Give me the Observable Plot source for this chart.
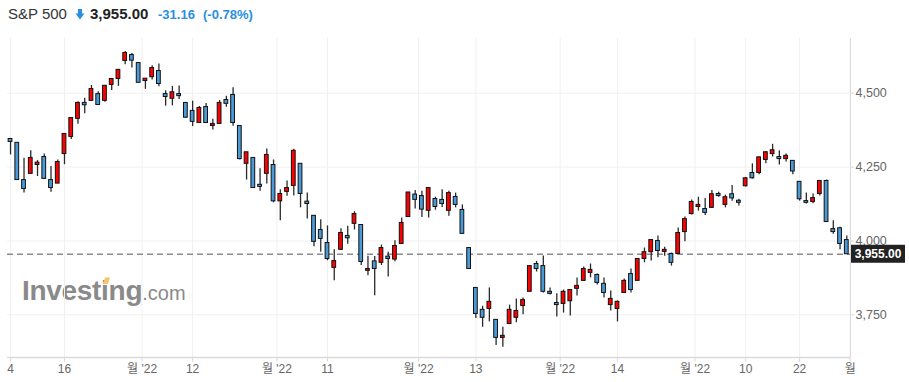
<!DOCTYPE html>
<html>
<head>
<meta charset="utf-8">
<script src="https://cdn.jsdelivr.net/npm/d3@7"></script>
<script src="https://cdn.jsdelivr.net/npm/@observablehq/plot@0.6"></script>
<style>
  body { margin: 0; background: #fff; font-family: "Liberation Sans", Arial, sans-serif; }
  #hdr { position: relative; height: 30px; width: 909px; }
  #hdr .t { position: absolute; top: 5px; white-space: nowrap; line-height: 18px; }
  #chart svg { display: block; }
</style>
</head>
<body>
<div id="hdr">
  <span class="t" id="name" style="left:8px;font-size:15px;color:#333;"></span>
  <svg style="position:absolute;left:75px;top:9px" width="10" height="11" viewBox="0 0 10 11">
    <rect x="3" y="0" width="4" height="5" fill="#2a8fe0"/>
    <polygon points="0.5,4.5 9.5,4.5 5,10.5" fill="#2a8fe0"/>
  </svg>
  <span class="t" id="last" style="left:90px;font-size:15px;font-weight:bold;color:#222;"></span>
  <span class="t" id="chg" style="left:158px;font-size:13px;font-weight:bold;color:#2a8fe0;top:6px"></span>
  <span class="t" id="pct" style="left:203px;font-size:13px;font-weight:bold;color:#2a8fe0;top:6px"></span>
</div>
<div id="chart"></div>
<script>
// ---- data (daily candles) ----
const instrument = "S&P 500";
const lastPrice = "3,955.00";
const change = "-31.16";
const changePct = "(-0.78%)";

const open = [4345,4332,4206,4227,4257,4284,4206,4194,4294,4352,4413,4467,4474,4497,4474,4528,4548,4609,4629,4602,
  4541,4554,4575,4497,4481,4497,4467,4440,4399,4453,4389,4396,4477,4494,4389,4261,4281,4190,4227,4257,
  4134,4166,4186,4261,4133,4085,4037,3993,3909,3970,4017,4058,4054,3899,3931,3926,3947,3937,3990,4081,
  4157,4152,4102,4142,4139,4102,4149,4105,3976,3841,3767,3770,3733,3672,3719,3740,3780,3828,3922,3915,
  3828,3790,3787,3796,3838,3865,3892,3885,3855,3783,3770,3824,3888,3865,3939,3962,4000,3963,3956,3956,
  4030,4091,4115,4108,4112,4159,4122,4158,4136,4185,4230,4230,4274,4294,4284,4277,4271,4200,4135,4132,
  4159,4203,4040,4043,4003];
const high = [4345,4332,4280,4305,4272,4294,4252,4274,4362,4416,4471,4483,4526,4505,4525,4548,4579,4641,4634,4602,
  4549,4593,4599,4508,4523,4524,4467,4473,4455,4465,4412,4475,4490,4518,4389,4300,4281,4244,4311,4274,
  4173,4203,4310,4261,4162,4085,4072,4051,3970,4041,4050,4099,4054,3948,3947,3986,3962,4001,4078,4164,
  4171,4168,4179,4148,4173,4168,4162,4122,3976,3841,3779,3841,3733,3708,3783,3804,3807,3915,3931,3949,
  3841,3821,3834,3834,3875,3912,3922,3888,3875,3831,3797,3871,3905,3939,3976,4003,4017,3979,3959,4044,
  4081,4139,4148,4144,4171,4165,4155,4188,4141,4215,4261,4283,4303,4327,4305,4294,4271,4200,4162,4159,
  4203,4206,4068,4046,4017];
const low = [4291,4206,4162,4227,4218,4208,4165,4194,4258,4343,4395,4430,4474,4458,4469,4509,4523,4596,4585,4535,
  4513,4545,4522,4456,4457,4479,4415,4387,4399,4397,4375,4394,4452,4388,4274,4206,4179,4168,4193,4129,
  4068,4151,4152,4112,4074,3980,3962,3933,3865,3968,3989,4037,3917,3882,3815,3917,3878,3930,3988,4081,
  4108,4079,4078,4104,4113,4084,4112,4024,3905,3738,3708,3726,3646,3640,3717,3723,3750,3828,3895,3824,
  3817,3743,3756,3746,3814,3863,3875,3851,3807,3763,3726,3822,3824,3865,3926,3932,3943,3948,3915,3954,
  3997,4088,4101,4086,4110,4148,4112,4134,4118,4183,4209,4224,4261,4284,4257,4267,4224,4135,4125,4126,
  4152,4064,4023,3970,3955];
const close = [4335,4206,4176,4281,4265,4210,4179,4267,4362,4416,4467,4459,4514,4460,4525,4548,4579,4636,4610,4535,
  4549,4585,4531,4487,4503,4490,4417,4403,4450,4399,4396,4467,4464,4399,4277,4300,4179,4183,4291,4134,
  4159,4179,4305,4159,4125,3997,4007,3939,3932,4027,4009,4091,3929,3905,3905,3976,3939,3983,4061,4164,
  4139,4106,4179,4115,4125,4162,4122,4024,3905,3753,3740,3794,3672,3679,3767,3763,3800,3915,3905,3828,
  3821,3783,3828,3834,3848,3905,3902,3858,3824,3804,3794,3865,3834,3939,3962,4003,3966,3970,3926,4027,
  4074,4132,4122,4095,4158,4152,4148,4144,4129,4212,4212,4283,4300,4307,4277,4288,4235,4141,4129,4145,
  4203,4064,4030,3990,3955];

// x-axis ticks: positions in trading-day index (month starts fall between candles)
const tickPos = [0, 8, 19.5, 27, 39.5, 47, 60.5, 69, 81.5, 90, 101.5, 109, 117, 124.5];
const tickLabels = ["4", "16", "월 '22", "12", "월 '22", "11", "월 '22", "13", "월 '22", "14", "월 '22", "10", "22", "월"];
const yTicks = [3750, 4000, 4250, 4500];
const lastClose = 3955;

// ---- header ----
document.getElementById("name").textContent = instrument;
document.getElementById("last").textContent = lastPrice;
document.getElementById("chg").textContent = change;
document.getElementById("pct").textContent = changePct;

// ---- chart ----
const upColor = "#ff0000", downColor = "#4b9ad8";
const data = close.map((c, i) => ({i, open: open[i], high: high[i], low: low[i], close: c}));
const ticks = tickPos.map((p, k) => ({p, label: tickLabels[k]}));
const yMin = 3605.7, yMax = 4685, xMin = -0.45, xMax = 124.55;
const fmt = d3.format(",");

const chart = Plot.plot({
  width: 909, height: 352,
  marginLeft: 7, marginRight: 59, marginTop: 8, marginBottom: 25,
  x: {type: "linear", domain: [xMin, xMax], axis: null},
  y: {type: "linear", domain: [yMin, yMax], axis: null},
  color: {type: "identity"},
  style: {background: "#fff", overflow: "visible", fontFamily: "'Liberation Sans', Arial, 'Noto Sans CJK KR', sans-serif"},
  marks: [
    Plot.ruleY(yTicks, {stroke: "#f0f0f0", strokeWidth: 1}),
    Plot.ruleX(ticks, {x: "p", stroke: "#f0f0f0", strokeWidth: 1}),
    Plot.ruleY([yMin], {stroke: "#dadada", strokeWidth: 1.5}),
    Plot.ruleX([xMax], {stroke: "#dadada", strokeWidth: 1}),
    Plot.ruleX(ticks, {x: "p", y1: yMin, y2: yMin - 16, stroke: "#dadada"}),
    Plot.ruleY(yTicks, {x1: xMax, x2: xMax + 0.6, stroke: "#dadada"}),
    Plot.ruleY([lastClose], {stroke: "#8c8c8c", strokeWidth: 1.5, strokeDasharray: "6,4"}),
    Plot.ruleX(data, {x: "i", y1: "low", y2: "high", stroke: "#2a2a2a", strokeWidth: 1.3}),
    Plot.rect(data, {
      x1: d => d.i - 0.28, x2: d => d.i + 0.28, y1: "open", y2: "close",
      fill: d => d.close >= d.open ? upColor : downColor,
      stroke: "#111", strokeWidth: 1
    }),
    Plot.text(yTicks, {x: xMax, y: d => d, text: d => fmt(d), dx: 5, textAnchor: "start", fill: "#666", fontSize: 12.5}),
    Plot.text(ticks, {x: "p", y: yMin, text: "label", dy: 12, fill: "#666", fontSize: 12})
  ]
});
document.getElementById("chart").appendChild(chart);

// price tag on the right axis, placed through the chart's own scales
const sx = chart.scale("x"), sy = chart.scale("y");
const svg = d3.select(chart);
const tagY = sy.apply(lastClose);
const tagX = sx.apply(xMax) + 1;
const tag = svg.append("g");
tag.append("rect").attr("x", tagX).attr("y", tagY - 9).attr("width", 54).attr("height", 18).attr("fill", "#222");
tag.append("text").attr("x", tagX + 27).attr("y", tagY).attr("dy", "0.35em").attr("text-anchor", "middle")
  .attr("fill", "#fff").attr("font-size", 12).attr("font-weight", "bold").attr("font-family", "'Liberation Sans', Arial, sans-serif")
  .text(lastPrice);

// watermark
const wm = svg.insert("g", ":first-child");
const wt = wm.append("text").attr("x", 22).attr("y", 270).attr("fill", "#8a8a8a").attr("text-anchor", "start")
  .attr("font-family", "'Liberation Sans', Arial, sans-serif");
wt.append("tspan").attr("font-size", 28).attr("font-weight", "bold").attr("letter-spacing", "-0.3").text("Investing");
wt.append("tspan").attr("font-size", 20).text(".com");
wm.append("polygon").attr("points", "103,254 105,247.5 110,247.5 108,254").attr("fill", "#f7c46c");
</script>
</body>
</html>
